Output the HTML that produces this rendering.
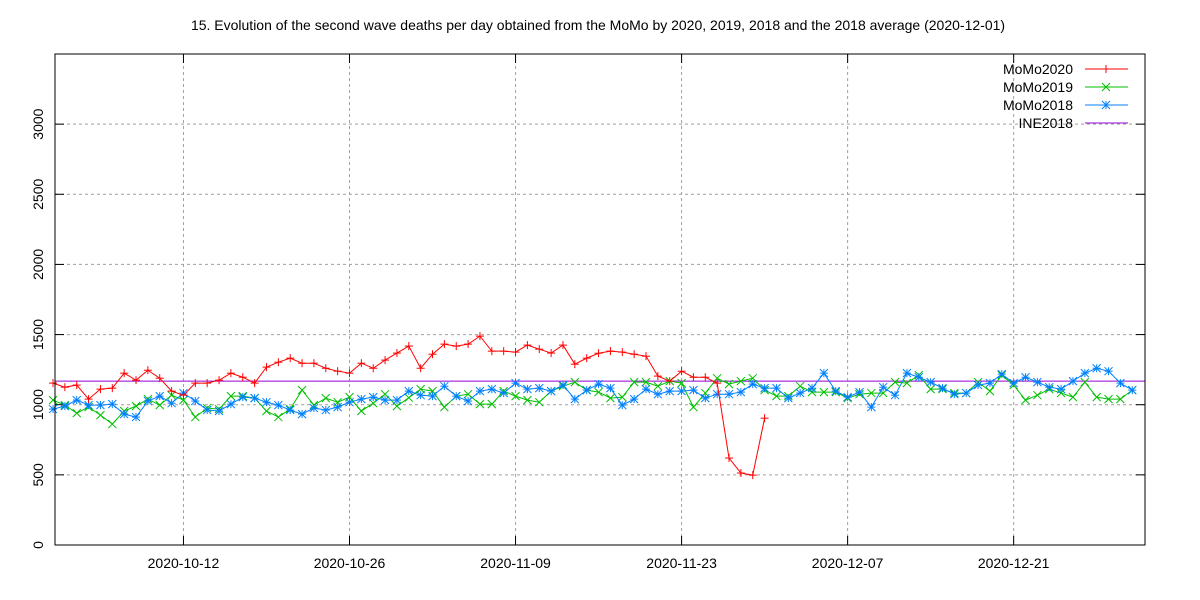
<!DOCTYPE html>
<html><head><meta charset="utf-8"><style>
body{margin:0;background:#fff}
svg{display:block;font-family:"Liberation Sans",sans-serif}
</style></head><body>
<svg id="chart" width="1200" height="600" xmlns="http://www.w3.org/2000/svg">
<rect width="1200" height="600" fill="#fff"/>
<text x="598" y="30" font-size="14" text-anchor="middle">15. Evolution of the second wave deaths per day obtained from the MoMo by 2020, 2019, 2018 and the 2018 average (2020-12-01)</text>
<g id="grid"></g><g id="series"></g><g id="legend"></g>
<rect x="55" y="54" width="1090" height="491" fill="none" stroke="#000" stroke-width="1"/>
</svg>
<script>
const yTicks=[0,500,1000,1500,2000,2500,3000];
const xTickLabels=["2020-10-12","2020-10-26","2020-11-09","2020-11-23","2020-12-07","2020-12-21"];
const xTickDays=[11,25,39,53,67,81];
const ine2018=1168;
const momo2020=[1154,1125,1140,1040,1111,1118,1225,1175,1246,1189,1097,1068,1154,1154,1175,1225,1196,1154,1268,1303,1332,1296,1296,1260,1239,1225,1296,1260,1318,1368,1418,
1260,1360,1432,1418,1432,1489,1382,1382,1375,1425,1396,1368,1425,1289,1332,1367,1382,1375,1360,1346,1204,1168,1239,1196,1196,1154,620,513,498,904];
const momo2019=[1033,997,940,983,926,862,955,990,1040,997,1068,1033,912,976,969,1061,1061,1047,955,912,969,1104,997,1047,1018,1054,955,1011,1075,990,1050,
1111,1097,983,1061,1075,1004,1004,1097,1061,1033,1018,1097,1132,1161,1104,1090,1047,1054,1161,1161,1132,1168,1154,983,1083,1189,1147,1168,1189,1104,
1061,1061,1132,1090,1090,1090,1047,1075,1083,1083,1161,1154,1211,1111,1111,1083,1083,1161,1097,1211,1140,1033,1068,1111,1083,1054,1161,1054,1040,1040,1104];
const momo2018=[969,990,1033,997,997,1004,933,912,1026,1061,1011,1083,1026,962,955,1004,1054,1047,1018,997,962,933,976,962,983,1018,1040,1054,1033,1033,1097,
1068,1061,1132,1061,1026,1097,1111,1083,1154,1111,1118,1097,1140,1040,1104,1147,1118,997,1040,1111,1075,1097,1097,1104,1047,1075,1075,1090,1147,1118,
1118,1047,1083,1118,1225,1097,1054,1090,983,1125,1068,1225,1196,1161,1118,1075,1083,1140,1154,1218,1154,1196,1161,1125,1111,1168,1225,1260,1239,1154,1104];
const NS="http://www.w3.org/2000/svg";
const L=55,R=1145,T=54,B=545,YMAX=3500,X0=53,DX=11.86;
const xs=d=>X0+d*DX, ys=v=>B-v*(B-T)/YMAX;
function mk(tag,attrs,parent){const e=document.createElementNS(NS,tag);for(const k in attrs)e.setAttribute(k,attrs[k]);parent.appendChild(e);return e;}
const grid=document.getElementById('grid'),ser=document.getElementById('series'),leg=document.getElementById('legend');
yTicks.forEach(v=>{const y=ys(v);
 if(v>0){const g=mk('line',{x1:L,x2:R,y1:y,y2:y,stroke:'#a0a0a0','stroke-dasharray':'3,3'},grid);
 
 }
 mk('line',{x1:L,x2:L+9,y1:y,y2:y,stroke:'#000'},grid);mk('line',{x1:R-9,x2:R,y1:y,y2:y,stroke:'#000'},grid);
 const t=mk('text',{x:0,y:0,'font-size':14,'text-anchor':'middle',transform:`translate(43,${y}) rotate(-90)`},grid);t.textContent=v;
 
 });
xTickDays.forEach((d,i)=>{const x=xs(d);
 const g=mk('line',{x1:x,x2:x,y1:T,y2:B,stroke:'#a0a0a0','stroke-dasharray':'3,3'},grid);
 
 
 mk('line',{x1:x,x2:x,y1:B,y2:B-9,stroke:'#000'},grid);mk('line',{x1:x,x2:x,y1:T,y2:T+9,stroke:'#000'},grid);
 const t=mk('text',{x:x,y:568,'font-size':14,'text-anchor':'middle'},grid);t.textContent=xTickLabels[i];
 
 });
function marker(type,x,y,col,p){const s=4;
 if(type==='+'||type==='*'){mk('line',{x1:x-s,x2:x+s,y1:y,y2:y,stroke:col},p);mk('line',{x1:x,x2:x,y1:y-s,y2:y+s,stroke:col},p);}
 if(type==='x'||type==='*'){mk('line',{x1:x-s,x2:x+s,y1:y-s,y2:y+s,stroke:col},p);mk('line',{x1:x-s,x2:x+s,y1:y+s,y2:y-s,stroke:col},p);}}
function series(data,col,type,name){const g=mk('g',{},ser);
 
 
 mk('polyline',{points:data.map((v,i)=>xs(i)+','+ys(v)).join(' '),fill:'none',stroke:col,'stroke-width':1},g);
 data.forEach((v,i)=>marker(type,xs(i),ys(v),col,g));}
const ine=mk('line',{x1:L,x2:R,y1:ys(ine2018),y2:ys(ine2018),stroke:'#9400d3'},ser);


series(momo2019,'#00c000','x','momo2019-series');
series(momo2018,'#0080ff','*','momo2018-series');
series(momo2020,'#ff0000','+','momo2020-series');
const legItems=[["MoMo2020","#ff0000","+"],["MoMo2019","#00c000","x"],["MoMo2018","#0080ff","*"],["INE2018","#9400d3",""]];
legItems.forEach((it,i)=>{const y=69+i*18;const g=mk('g',{},leg);
 
 
 const t=mk('text',{x:1073,y:y+5,'font-size':14,'text-anchor':'end'},g);t.textContent=it[0];
 mk('line',{x1:1085,x2:1128,y1:y,y2:y,stroke:it[1]},g);
 if(it[2])marker(it[2],1106,y,it[1],g);});
</script>
</body></html>
